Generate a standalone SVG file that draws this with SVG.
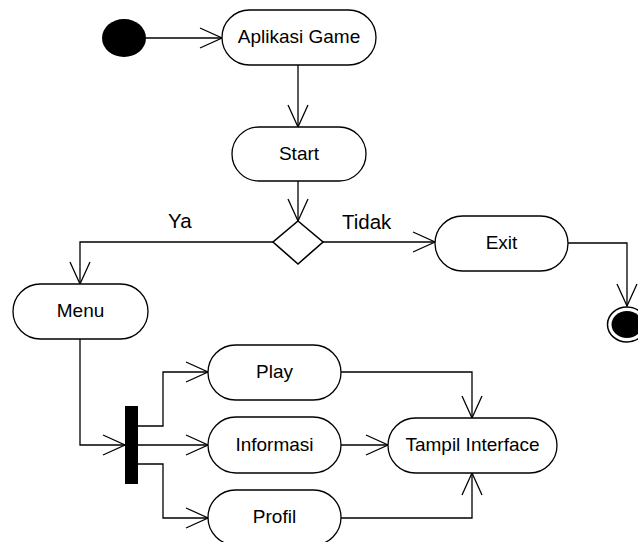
<svg xmlns="http://www.w3.org/2000/svg" width="638" height="542" viewBox="0 0 638 542">
  <style>
    .act { fill: #ffffff; stroke: #000000; stroke-width: 1.3; }
    .lbl { font-family: "Liberation Sans", Arial, sans-serif; font-size: 19px; fill: #000000; text-anchor: middle; }
    .guard { font-family: "Liberation Sans", Arial, sans-serif; font-size: 20.5px; fill: #000000; }
    .flow { fill: none; stroke: #000000; stroke-width: 1.3; marker-end: url(#open); }
  </style>
  <defs>
    <marker id="open" markerUnits="userSpaceOnUse" markerWidth="26" markerHeight="24" viewBox="-1 -12 26 24" refX="22" refY="0" orient="auto" overflow="visible">
      <path d="M0,-10 L22,0 L0,10" fill="none" stroke="#000000" stroke-width="1.3"/>
    </marker>
  </defs>

  <rect width="638" height="542" fill="#ffffff"/>

  <g id="connectors">
    <path class="flow" d="M146,38 H222"/>
    <path class="flow" d="M298,65 V127"/>
    <path class="flow" d="M298,181 V221"/>
    <path class="flow" d="M323,242 H435"/>
    <path class="flow" d="M273,242 H80 V284"/>
    <path class="flow" d="M568,243 H627 V306"/>
    <path class="flow" d="M80,339 V445 H125"/>
    <path class="flow" d="M138,426 H163 V372 H208"/>
    <path class="flow" d="M138,445 H208"/>
    <path class="flow" d="M138,464 H163 V518 H208"/>
    <path class="flow" d="M341,372 H472 V418"/>
    <path class="flow" d="M341,445 H388"/>
    <path class="flow" d="M341,518 H472 V473"/>
  </g>

  <g id="initial">
    <ellipse cx="124" cy="38" rx="22" ry="19" fill="#000000"/>
  </g>

  <g id="aplikasi-game">
    <rect class="act" x="222" y="10" width="154" height="55" rx="27.5" ry="27.5"/>
    <text class="lbl" x="299" y="43">Aplikasi Game</text>
  </g>

  <g id="start">
    <rect class="act" x="232" y="127" width="134" height="54" rx="27" ry="27"/>
    <text class="lbl" x="299" y="159.5">Start</text>
  </g>

  <g id="decision">
    <polygon points="298,221 323,242 298,264 273,242" fill="#ffffff" stroke="#000000" stroke-width="1.6"/>
    <text class="guard" x="168" y="228">Ya</text>
    <text class="guard" x="342" y="228.5">Tidak</text>
  </g>

  <g id="exit">
    <rect class="act" x="435" y="216" width="133" height="55" rx="27.5" ry="27.5"/>
    <text class="lbl" x="501.5" y="249">Exit</text>
  </g>

  <g id="final">
    <ellipse cx="627" cy="324.5" rx="19.5" ry="17.5" fill="#ffffff" stroke="#000000" stroke-width="1.5"/>
    <ellipse cx="627" cy="324.5" rx="15.5" ry="13.5" fill="#000000"/>
  </g>

  <g id="menu">
    <rect class="act" x="13" y="284" width="135" height="55" rx="27.5" ry="27.5"/>
    <text class="lbl" x="80.5" y="317">Menu</text>
  </g>

  <g id="fork">
    <rect x="125" y="406" width="13" height="78" fill="#000000"/>
  </g>

  <g id="play">
    <rect class="act" x="208" y="345" width="133" height="55" rx="27.5" ry="27.5"/>
    <text class="lbl" x="274.5" y="378">Play</text>
  </g>

  <g id="informasi">
    <rect class="act" x="208" y="417" width="133" height="56" rx="28" ry="28"/>
    <text class="lbl" x="274.5" y="451">Informasi</text>
  </g>

  <g id="profil">
    <rect class="act" x="208" y="490" width="133" height="55" rx="27.5" ry="27.5"/>
    <text class="lbl" x="274.5" y="523">Profil</text>
  </g>

  <g id="tampil-interface">
    <rect class="act" x="388" y="418" width="169" height="55" rx="27.5" ry="27.5"/>
    <text class="lbl" x="472.5" y="451">Tampil Interface</text>
  </g>
</svg>
